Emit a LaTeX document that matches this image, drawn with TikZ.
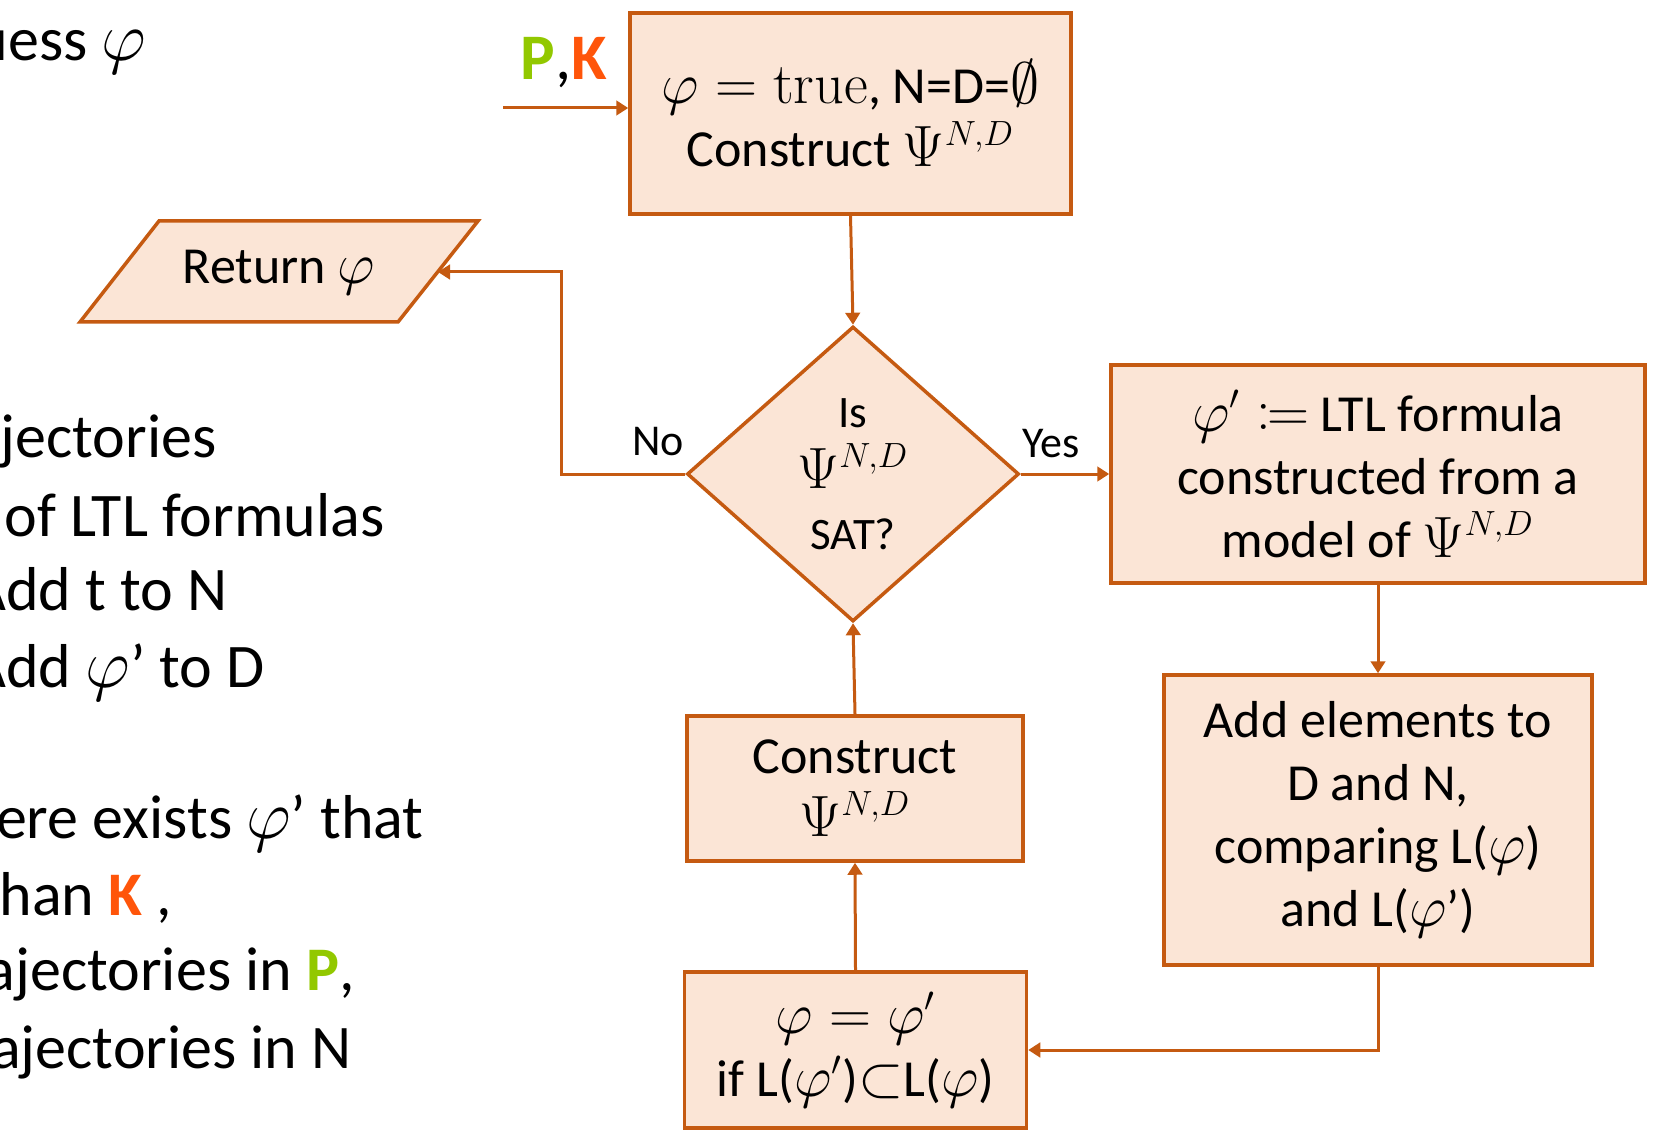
\RequirePackage{fix-cm}
\documentclass[tikz,border=0pt]{standalone}
\usepackage{mathtools}
\usepackage[no-math]{fontspec}
\setmainfont{Carlito}
\DeclareMathSizes{20.8}{23.3}{14}{10}
\DeclareMathSizes{18}{23.3}{14}{10}
\DeclareMathSizes{24.8}{27.8}{19.8}{14}
\usetikzlibrary{shapes.geometric,arrows.meta}
\definecolor{bord}{HTML}{C55A11}
\definecolor{boxfill}{HTML}{FBE5D6}
\definecolor{pgreen}{RGB}{146,200,0}
\definecolor{korange}{RGB}{255,85,10}
\tikzset{
  flowbox/.style={draw=bord, fill=boxfill, line width=1.4pt, inner sep=0pt, align=center,
    font=\fontsize{20.8}{25.2}\selectfont},
  decision/.style={diamond, draw=bord, fill=boxfill, line width=1.4pt, inner sep=0pt,
    align=center, font=\fontsize{18}{24.4}\selectfont},
  conn/.style={draw=bord, line width=1.2pt, -{Triangle[length=4.8pt,width=5.8pt]}},
  lbl/.style={inner sep=0pt, font=\fontsize{17.6}{20}\selectfont},
  lefttext/.style={inner sep=0pt, anchor=base east, font=\fontsize{24.8}{30}\selectfont},
  leftw/.style={inner sep=0pt, anchor=base west, font=\fontsize{24.8}{30}\selectfont},
}
\begin{document}
\begin{tikzpicture}[x=0.4pt,y=-0.4pt]
\useasboundingbox (0,0) rectangle (1678,1131);

% boxes
\node[flowbox, minimum width=176.4pt, minimum height=80.4pt] (init) at (850.5,113.5)
  {$\varphi = \mathrm{true}$, N=D=$\emptyset$\\Construct $\Psi^{N,D}$};
\node[decision, minimum width=132.8pt, minimum height=118pt] (dia) at (853,474)
  {Is\\$\Psi^{N,D}$\\SAT?};
\node[flowbox, minimum width=213.6pt, minimum height=87.2pt] (model) at (1378,474)
  {$\varphi' \coloneqq$ LTL formula\\constructed from a\\model of $\Psi^{N,D}$};
\node[flowbox, minimum width=171.2pt, minimum height=116pt] (add) at (1378,820)
  {Add elements to\\D and N,\\comparing L($\varphi$)\\and L($\varphi$’)};
\node[flowbox, minimum width=134.4pt, minimum height=58pt] (cons) at (855,788.5)
  {Construct\\$\Psi^{N,D}$};
\node[flowbox, minimum width=136.8pt, minimum height=62.4pt] (upd) at (855.5,1050)
  {$\varphi = \varphi'$\\if L($\varphi'$)$\subset$L($\varphi$)};

% return parallelogram
\draw[draw=bord, fill=boxfill, line width=1.4pt] (80,322) -- (159,221) -- (478,221) -- (398,322) -- cycle;
\node[inner sep=0pt, font=\fontsize{20.8}{25}\selectfont] (ret) at (279,272) {Return $\varphi$};
\coordinate (retE) at (438,272);

% labels
\node[lbl, anchor=base] (no) at (658,455) {No};
\node[lbl, anchor=base] (yes) at (1051,458) {Yes};
\node[inner sep=0pt, anchor=base west, font=\fontsize{26}{30}\selectfont\bfseries] (pk) at (520,80)
  {\textcolor{pgreen}{P}\textmd{,}\textcolor{korange}{K}};

% connectors
\coordinate (inS) at (503,108);
\draw[conn] (inS) -- (inS -| init.west);
\draw[conn] (init.south) -- (dia.north);
\coordinate (noBend) at (561,272);
\draw[conn] (dia.west) -| (noBend) -- (retE);
\draw[conn] (dia.east) -- (model.west);
\draw[conn] (model.south) -- (add.north);
\draw[conn] (add.south) |- (upd.east);
\draw[conn] (upd.north) -- (cons.south);
\draw[conn] (cons.north) -- (dia.south);

% left text (cut at the left edge)
\node[lefttext] (t0) at (147,61) {uess $\varphi$};
\node[lefttext] (t1) at (217,457) {jectories};
\node[lefttext] (t2) at (385,536) {of LTL formulas};
\node[leftw] (t3) at (-30,610) {Add t to N};
\node[leftw] (t4) at (-30,687) {Add $\varphi$’ to D};
\node[lefttext] (t5) at (424,838) {ere exists $\varphi$’ that};
\node[leftw] (t6) at (-1,915) {han \textbf{\textcolor{korange}{K}} ,};
\node[lefttext] (t7) at (355,990) {ajectories in \textbf{\textcolor{pgreen}{P}},};
\node[lefttext] (t8) at (352,1068) {ajectories in N};
\end{tikzpicture}
\end{document}
